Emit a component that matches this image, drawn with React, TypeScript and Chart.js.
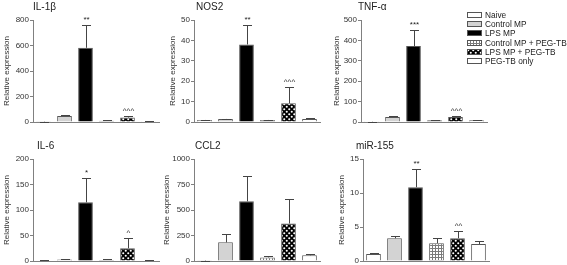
import React, { useEffect, useRef } from "react";
import { Chart, registerables } from "chart.js";

Chart.register(...registerables);

// ---------- data ----------
const groups = [
  "Naive",
  "Control MP",
  "LPS MP",
  "Control MP + PEG-TB",
  "LPS MP + PEG-TB",
  "PEG-TB only",
];

const il1bMean = [2, 47, 582, 10, 35, 6];
const il1bErr = [1, 10, 178, 3, 15, 2];
const il1bMarks = ["", "", "**", "", "^^^", ""];

const nos2Mean = [1, 1.5, 38, 1, 9.2, 1.5];
const nos2Err = [0.2, 0.2, 9.5, 0.2, 7.8, 0.3];
const nos2Marks = ["", "", "**", "", "^^^", ""];

const tnfMean = [1, 25, 372, 8, 25, 8];
const tnfErr = [0.5, 3, 80, 3, 5, 3];
const tnfMarks = ["", "", "***", "", "^^^", ""];

const il6Mean = [1, 3, 115, 2, 25, 1];
const il6Err = [0.5, 1, 47, 1, 20, 0.5];
const il6Marks = ["", "", "*", "", "^", ""];

const ccl2Mean = [3, 183, 585, 35, 368, 56];
const ccl2Err = [1, 82, 250, 10, 235, 12];
const ccl2Marks = ["", "", "", "", "", ""];

const mir155Mean = [1.03, 3.35, 10.85, 2.6, 3.35, 2.5];
const mir155Err = [0.1, 0.35, 2.65, 0.85, 1.05, 0.5];
const mir155Marks = ["", "", "**", "", "^^", ""];

const panels = [
  { title: "IL-1\u03b2", mean: il1bMean, err: il1bErr, marks: il1bMarks, max: 800, step: 200 },
  { title: "NOS2", mean: nos2Mean, err: nos2Err, marks: nos2Marks, max: 50, step: 10 },
  { title: "TNF-\u03b1", mean: tnfMean, err: tnfErr, marks: tnfMarks, max: 500, step: 100 },
  { title: "IL-6", mean: il6Mean, err: il6Err, marks: il6Marks, max: 200, step: 50 },
  { title: "CCL2", mean: ccl2Mean, err: ccl2Err, marks: ccl2Marks, max: 1000, step: 250 },
  { title: "miR-155", mean: mir155Mean, err: mir155Err, marks: mir155Marks, max: 15, step: 5 },
];

// ---------- layout ----------
const AXIS_W = 36;
const PLOT_W = 126;
const PLOT_H = 102;
const PAD_TOP = 22;
const PAD_BOTTOM = 6;
const PAD_RIGHT = 6;

const layout = [
  { axisX: 33, top: 20, titleX: 33, yTitleX: 7 },
  { axisX: 194, top: 20, titleX: 196, yTitleX: 173 },
  { axisX: 361, top: 20, titleX: 358, yTitleX: 337 },
  { axisX: 33, top: 159, titleX: 37, yTitleX: 7 },
  { axisX: 194, top: 159, titleX: 195, yTitleX: 167 },
  { axisX: 363, top: 159, titleX: 356, yTitleX: 342 },
];

const FONT = '"Liberation Sans", Arial, Helvetica, sans-serif';
const AXIS_COLOR = "#808080";
const BORDER_COLOR = "#555";
const ERR_COLOR = "#444";
const TEXT_COLOR = "#222";

// ---------- patterns ----------
function makeFill(kind: number): string | CanvasPattern {
  if (kind === 0 || kind === 5) return "#ffffff";
  if (kind === 1) return "#d3d3d3";
  if (kind === 2) return "#000000";
  const c = document.createElement("canvas");
  const ctx = c.getContext("2d")!;
  if (kind === 3) {
    c.width = 3;
    c.height = 3;
    ctx.fillStyle = "#ffffff";
    ctx.fillRect(0, 0, 3, 3);
    ctx.fillStyle = "#7a7a7a";
    ctx.fillRect(0, 0, 3, 1);
    ctx.fillRect(0, 0, 1, 3);
  } else {
    c.width = 5;
    c.height = 5;
    ctx.fillStyle = "#000000";
    ctx.fillRect(0, 0, 5, 5);
    ctx.fillStyle = "#ffffff";
    ctx.beginPath();
    ctx.arc(1.25, 1.25, 1.05, 0, Math.PI * 2);
    ctx.fill();
    ctx.beginPath();
    ctx.arc(3.75, 3.75, 1.05, 0, Math.PI * 2);
    ctx.fill();
  }
  return ctx.createPattern(c, "repeat")!;
}

function Panel({ idx }: { idx: number }) {
  const ref = useRef<HTMLCanvasElement | null>(null);
  const p = panels[idx];
  const L = layout[idx];
  const cl = L.axisX - AXIS_W;
  const ct = L.top - PAD_TOP;
  const W = AXIS_W + PLOT_W + PAD_RIGHT;
  const H = PAD_TOP + PLOT_H + PAD_BOTTOM;

  useEffect(() => {
    if (!ref.current) return;
    const fills = groups.map((_, i) => makeFill(i));
    const decor = {
      id: "decor" + idx,
      afterDatasetsDraw(chart: any) {
        const ctx = chart.ctx;
        const meta = chart.getDatasetMeta(0);
        const ys = chart.scales.y;
        ctx.save();
        ctx.strokeStyle = ERR_COLOR;
        ctx.lineWidth = 1;
        meta.data.forEach((el: any, i: number) => {
          const x = Math.round(el.x) + 0.5;
          const y0 = ys.getPixelForValue(p.mean[i]);
          const y1 = Math.round(ys.getPixelForValue(p.mean[i] + p.err[i])) + 0.5;
          ctx.beginPath();
          ctx.moveTo(x, y0);
          ctx.lineTo(x, y1);
          ctx.moveTo(x - 4.5, y1);
          ctx.lineTo(x + 4.5, y1);
          ctx.stroke();
          if (p.marks[i]) {
            ctx.fillStyle = TEXT_COLOR;
            ctx.font = "8px " + FONT;
            ctx.textAlign = "center";
            ctx.textBaseline = "bottom";
            ctx.fillText(p.marks[i], x, y1 - 2);
          }
        });
        ctx.restore();
      },
      afterDraw(chart: any) {
        const ctx = chart.ctx;
        const area = chart.chartArea;
        ctx.save();
        ctx.fillStyle = TEXT_COLOR;
        ctx.font = "10px " + FONT;
        ctx.textAlign = "left";
        ctx.textBaseline = "middle";
        ctx.fillText(p.title, L.titleX - cl, area.top - 13);
        ctx.translate(L.yTitleX - cl, (area.top + area.bottom) / 2);
        ctx.rotate(-Math.PI / 2);
        ctx.font = "8px " + FONT;
        ctx.textAlign = "center";
        ctx.fillStyle = "#333";
        ctx.fillText("Relative expression", 0, 0);
        ctx.restore();
      },
    };
    const chart = new Chart(ref.current, {
      type: "bar",
      data: {
        labels: groups,
        datasets: [
          {
            data: p.mean,
            backgroundColor: fills as any,
            borderColor: BORDER_COLOR,
            borderWidth: 1,
            barPercentage: 0.7,
            categoryPercentage: 1,
          },
        ],
      },
      options: {
        animation: false,
        responsive: false,
        devicePixelRatio: 1,
        layout: { padding: { left: 0, top: PAD_TOP, right: PAD_RIGHT, bottom: PAD_BOTTOM } },
        plugins: { legend: { display: false }, tooltip: { enabled: false }, title: { display: false } },
        scales: {
          x: {
            ticks: { display: false },
            grid: { display: true, drawOnChartArea: false, drawTicks: false },
            border: { display: true, color: AXIS_COLOR, width: 1 },
            afterFit(scale: any) {
              scale.height = 0;
            },
          },
          y: {
            min: 0,
            max: p.max,
            ticks: {
              stepSize: p.step,
              color: "#333",
              font: { size: 8, family: FONT },
              padding: 1,
              callback: (v: any) => String(v),
            },
            grid: { display: true, drawOnChartArea: false, drawTicks: true, tickLength: 3, color: AXIS_COLOR },
            border: { display: true, color: AXIS_COLOR, width: 1 },
            afterFit(scale: any) {
              scale.width = AXIS_W;
            },
          },
        },
      },
      plugins: [decor],
    });
    return () => chart.destroy();
  }, []);

  return (
    <canvas
      ref={ref}
      width={W}
      height={H}
      style={{ position: "absolute", left: cl, top: ct, width: W, height: H }}
    />
  );
}

function Swatch({ kind }: { kind: number }) {
  const ref = useRef<HTMLCanvasElement | null>(null);
  useEffect(() => {
    const c = ref.current;
    if (!c) return;
    const ctx = c.getContext("2d")!;
    ctx.clearRect(0, 0, 15, 6);
    ctx.fillStyle = makeFill(kind) as any;
    ctx.fillRect(0, 0, 15, 6);
    ctx.strokeStyle = BORDER_COLOR;
    ctx.lineWidth = 1;
    ctx.strokeRect(0.5, 0.5, 14, 5);
  }, []);
  return <canvas ref={ref} width={15} height={6} style={{ position: "absolute", left: 0, top: 0 }} />;
}

export default function App() {
  return (
    <div style={{ position: "absolute", left: 0, top: 0, width: 567, height: 265, background: "#fff", overflow: "hidden" }}>
      {panels.map((_, i) => (
        <Panel key={i} idx={i} />
      ))}
      <div style={{ position: "absolute", left: 467, top: 0, width: 100, height: 70, zIndex: 2 }}>
        {groups.map((g, i) => (
          <div key={g} style={{ position: "absolute", left: 0, top: 11.7 + i * 9.3, width: 100, height: 6 }}>
            <Swatch kind={i} />
            <span
              style={{
                position: "absolute",
                left: 18,
                top: -3,
                fontFamily: FONT,
                fontSize: 8.3,
                lineHeight: "12px",
                color: TEXT_COLOR,
                whiteSpace: "nowrap",
              }}
            >
              {g}
            </span>
          </div>
        ))}
      </div>
    </div>
  );
}
